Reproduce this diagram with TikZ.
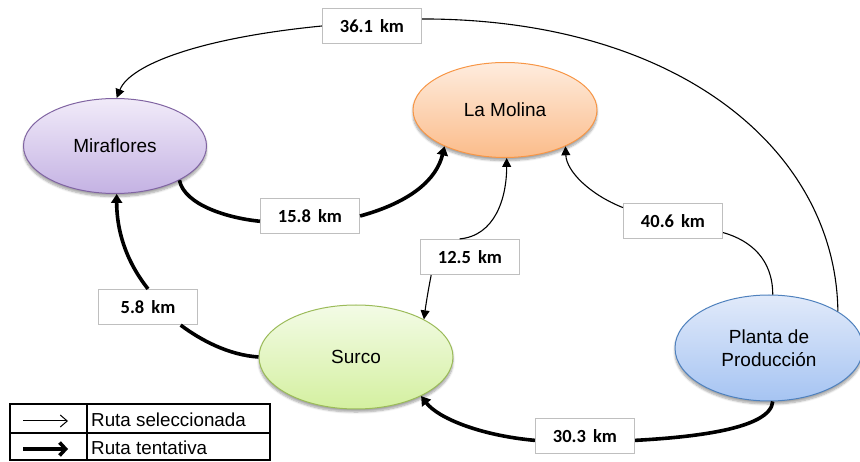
\documentclass[tikz,border=0pt]{standalone}
\usepackage{fontspec}
\setmainfont{Liberation Sans}
\newfontfamily\lblfont{Carlito}
\usetikzlibrary{shapes.geometric,arrows.meta,shadows.blur}

\definecolor{mirTop}{RGB}{241,235,249}
\definecolor{mirBot}{RGB}{196,178,227}
\definecolor{mirLine}{RGB}{128,100,162}
\definecolor{molTop}{RGB}{254,236,222}
\definecolor{molBot}{RGB}{251,188,138}
\definecolor{molLine}{RGB}{247,150,70}
\definecolor{surTop}{RGB}{243,251,230}
\definecolor{surBot}{RGB}{212,240,160}
\definecolor{surLine}{RGB}{155,187,89}
\definecolor{plTop}{RGB}{225,234,250}
\definecolor{plBot}{RGB}{166,196,242}
\definecolor{plLine}{RGB}{79,129,189}
\definecolor{boxLine}{RGB}{191,191,191}

\tikzset{
  place/.style={ellipse, draw, line width=1pt, inner sep=0pt, align=center,
    font=\fontsize{19}{22}\selectfont,
    blur shadow={shadow blur steps=6, shadow xshift=0pt, shadow yshift=-3pt,
      shadow opacity=35, shadow blur extra rounding=2pt}},
  dist/.style={draw=boxLine, fill=white, line width=1.2pt, inner sep=0pt,
    minimum width=99pt, minimum height=35pt,
    font=\lblfont\bfseries\fontsize{18.5}{20}\selectfont},
  chosen/.style={line width=1.1pt, -{Triangle[length=9pt,width=9pt]}},
  tentative/.style={line width=3.6pt, -{Triangle[length=9pt,width=11pt]}},
  plain/.style={line width=1.1pt},
  heavy/.style={line width=3.6pt},
}

\begin{document}
\begin{tikzpicture}[x=1pt, y=-1pt]
\useasboundingbox (0,0) rectangle (860,462);

% districts
\node[place, minimum width=183pt, minimum height=95pt, draw=mirLine,
  top color=mirTop, bottom color=mirBot] (mir) at (115,146) {Miraflores};
\node[place, minimum width=184pt, minimum height=95pt, draw=molLine,
  top color=molTop, bottom color=molBot] (mol) at (505,110) {La Molina};
\node[place, minimum width=194pt, minimum height=104pt, draw=surLine,
  top color=surTop, bottom color=surBot] (sur) at (356,357) {Surco};
\node[place, minimum width=188pt, minimum height=106pt, draw=plLine,
  top color=plTop, bottom color=plBot] (pl) at (769,348) {Planta de\\[1pt]Producción};

% distance labels
\node[dist] (l36) at (372,26) {36.1\hspace{0.38em}km};
\node[dist] (l15) at (310,216) {15.8\hspace{0.38em}km};
\node[dist] (l12) at (470,257) {12.5\hspace{0.38em}km};
\node[dist] (l5)  at (148,307) {5.8\hspace{0.38em}km};
\node[dist] (l40) at (673,221) {40.6\hspace{0.38em}km};
\node[dist] (l30) at (585,436) {30.3\hspace{0.38em}km};

% selected routes
\draw[plain] (pl.28) .. controls +(-2,-160) and +(258,0) .. (l36.8);
\draw[chosen] (l36.west) .. controls +(-123,12) and +(13,-33) .. (mir.88);

\draw[chosen] (l12.120) .. controls +(35,-3) and +(0,41) .. (mol.-88);
\draw[chosen] (l12.205) .. controls +(-3,15) and +(2,-15) .. (sur.29.5);

\draw[plain] (pl.86) .. controls +(0,-35) and +(28,8) .. (l40.-13);
\draw[chosen] (l40.165) .. controls +(-33,-13) and +(1,25) .. (mol.-31);

% tentative routes
\draw[heavy] (mir.-28) .. controls +(5,25) and +(-31,-3) .. (l15.186);
\draw[tentative] (l15.east) .. controls +(51,-14) and +(-8,33) .. (mol.-149);

\draw[heavy] (sur.180) .. controls +(-30,-2) and +(20,15) .. (l5.-29);
\draw[tentative] (l5.north) .. controls +(-23,-29) and +(0,35) .. (mir.-88);

\draw[heavy] (pl.-86) .. controls +(-2,28) and +(55,-3) .. (l30.-5);
\draw[tentative] (l30.185) .. controls +(-55,-5) and +(17,22) .. (sur.-31.5);

% legend
\draw[line width=1.3pt] (10,404) rectangle (270,460);
\draw[line width=1.3pt] (10,433) -- (270,433);
\draw[line width=1.3pt] (87,404) -- (87,460);
\coordinate (k1a) at (23,421);
\coordinate (k1b) at (68,421);
\coordinate (k2a) at (23,449);
\coordinate (k2b) at (68,449);
\draw[line width=1pt, -{Straight Barb[length=7pt,width=12pt]}] (k1a) -- (k1b);
\draw[line width=3.6pt, -{Straight Barb[length=6pt,width=13pt]}] (k2a) -- (k2b);
\node[anchor=west, inner sep=0pt, font=\fontsize{18.8}{22}\selectfont]
  (t1) at (91,419.5) {Ruta seleccionada};
\node[anchor=west, inner sep=0pt, font=\fontsize{18.8}{22}\selectfont]
  (t2) at (91,447.5) {Ruta tentativa};
\end{tikzpicture}
\end{document}
